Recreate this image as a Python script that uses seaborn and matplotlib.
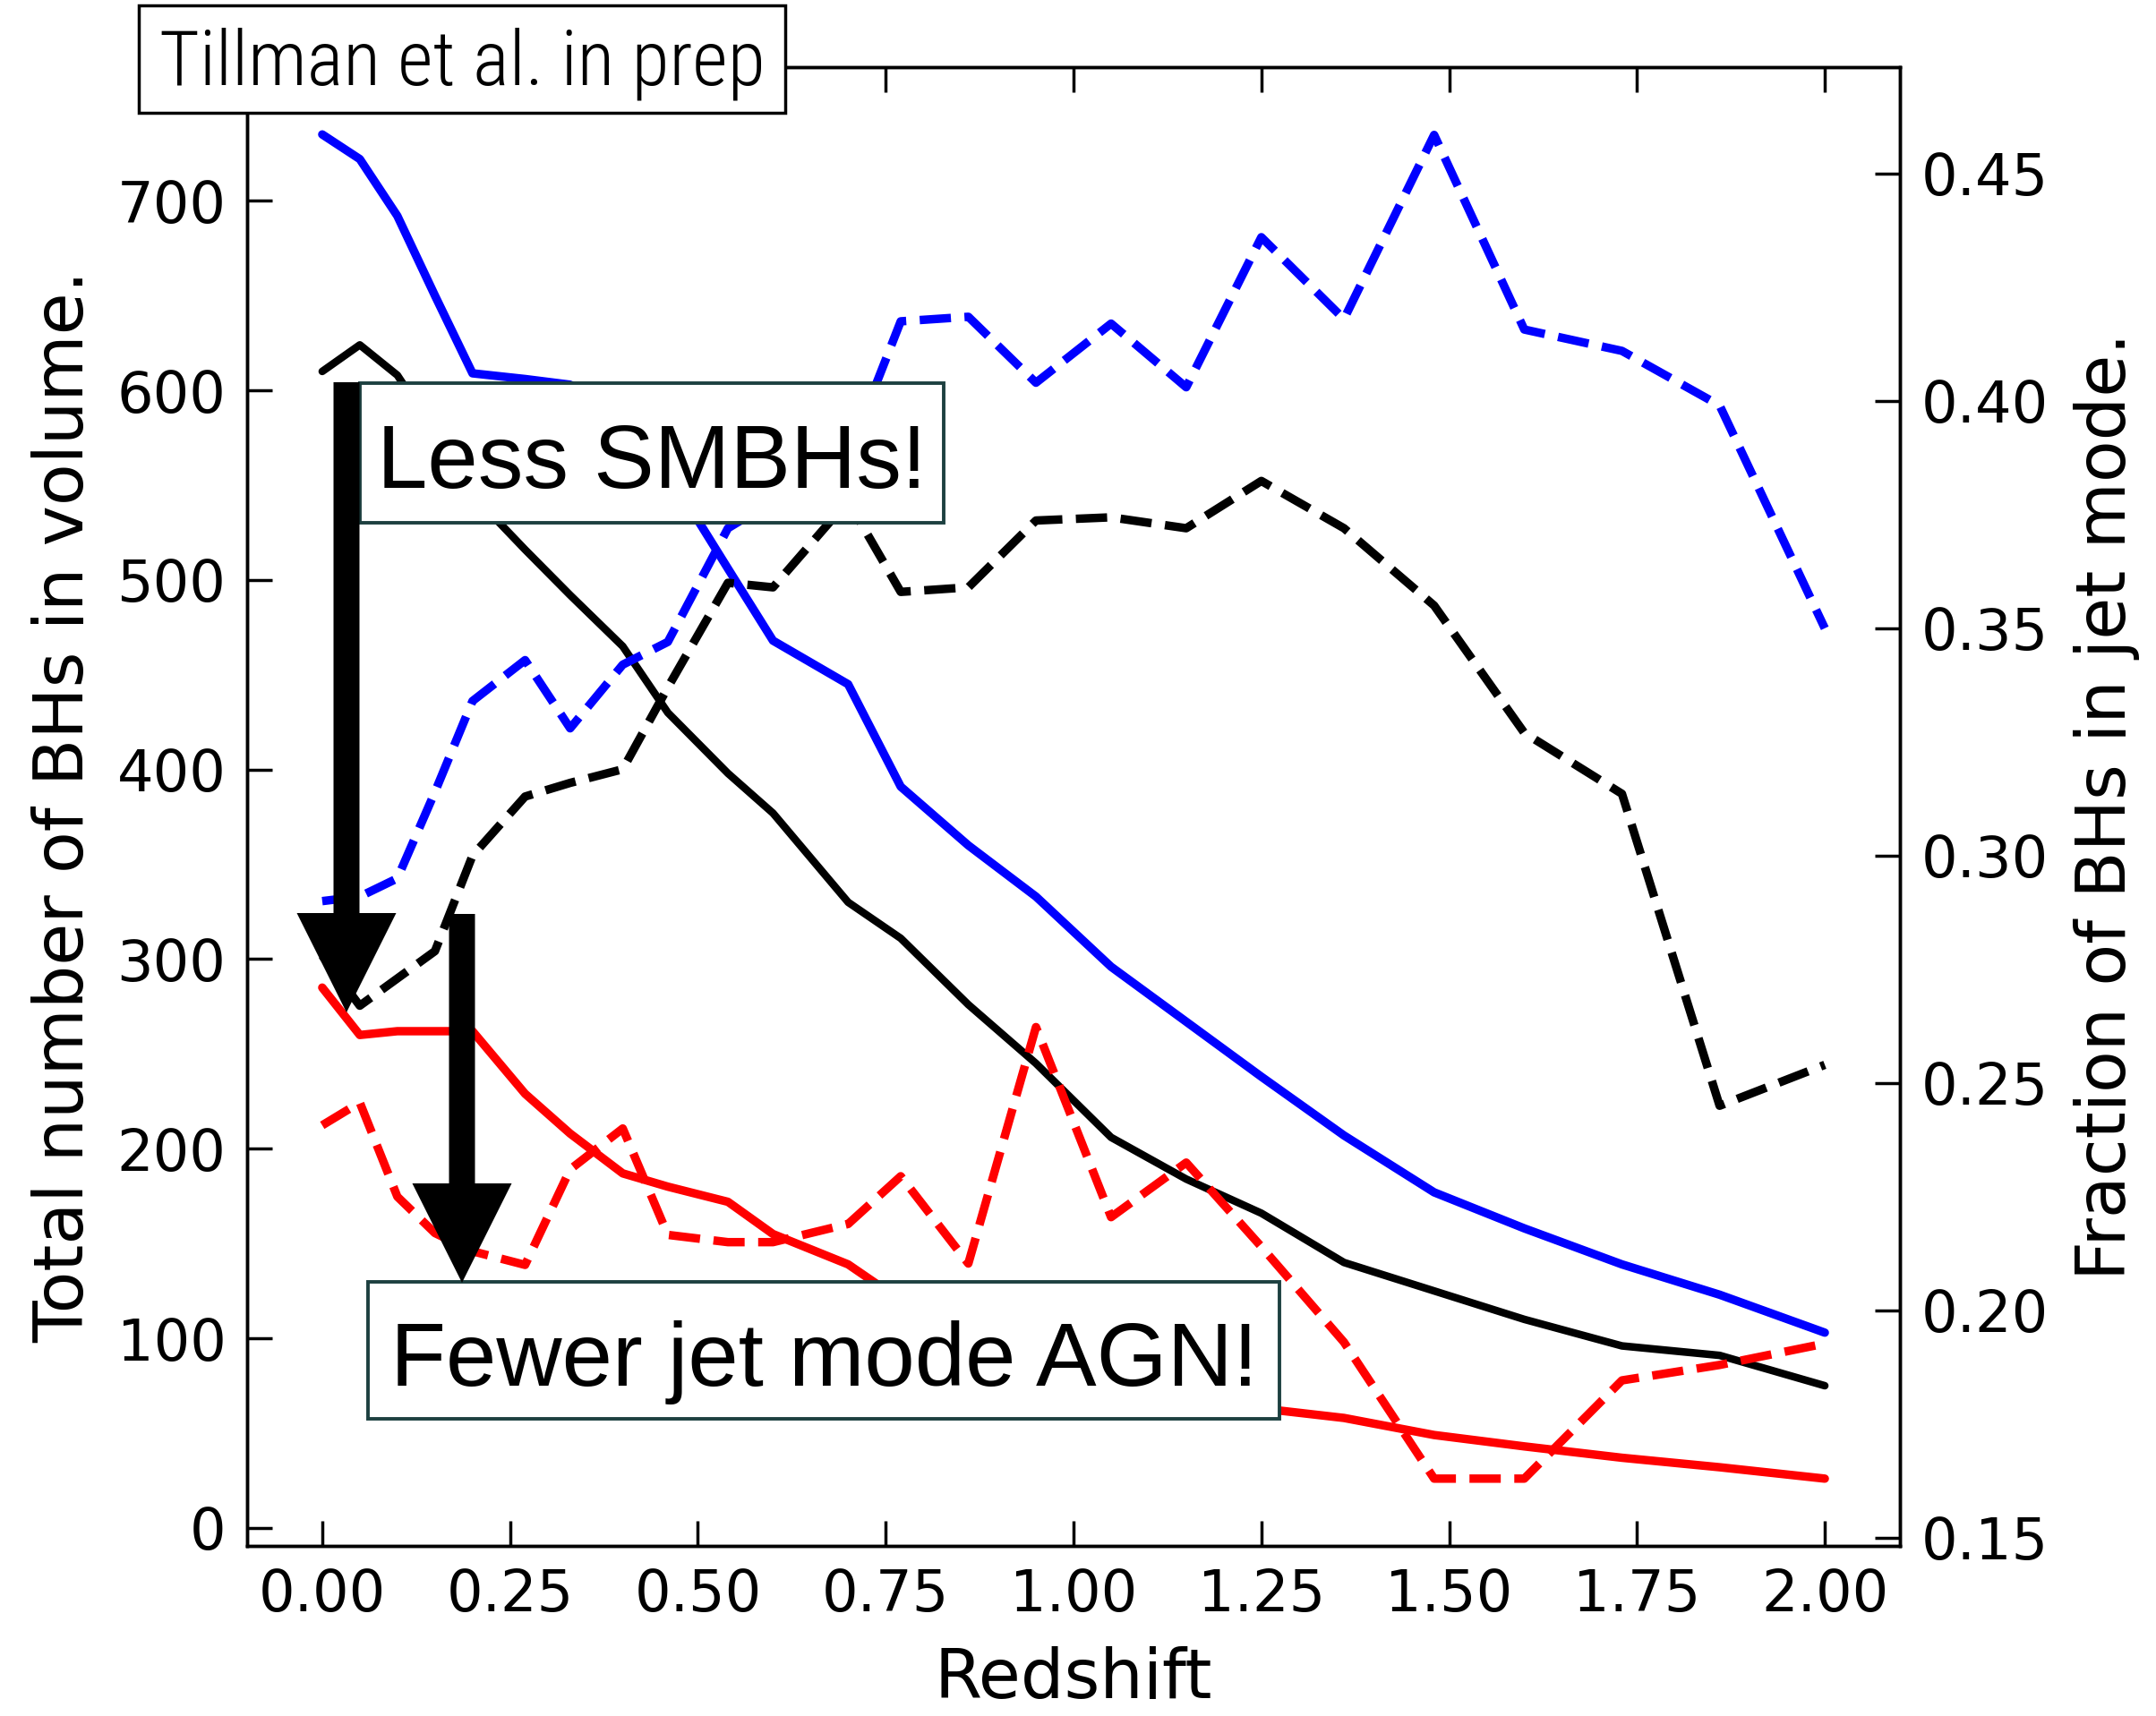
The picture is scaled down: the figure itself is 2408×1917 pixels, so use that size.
import numpy as np
import pandas as pd
import matplotlib
matplotlib.use("Agg")
import matplotlib.pyplot as plt
import seaborn as sns
from matplotlib.patches import Rectangle, FancyArrow

# ---------------- data ----------------
redshift = [0.00, 0.05, 0.10, 0.15, 0.20, 0.27, 0.33, 0.40, 0.46, 0.54, 0.60, 0.70,
            0.77, 0.86, 0.95, 1.05, 1.15, 1.25, 1.36, 1.48, 1.60, 1.73, 1.86, 2.00]

# total number of BHs in volume (left axis, solid)
n_blue = [735, 722, 692, 650, 609, 606, 603, 585, 557, 506, 468, 445,
          391, 360, 333, 296, 267, 238, 207, 177, 158, 139, 123, 103]
n_black = [610, 624, 608, 578, 545, 516, 492, 465, 430, 398, 377, 330,
           311, 276, 245, 206, 184, 166, 140, 125, 110, 96, 91, 75]
n_red = [285, 260, 262, 262, 262, 229, 208, 187, 180, 172, 155, 139,
         120, 105, 92, 80, 70, 63, 58, 49, 43, 37, 32, 26]

# fraction of BHs in jet mode (right axis, dashed)
f_blue = [0.290, 0.291, 0.295, 0.314, 0.334, 0.343, 0.328, 0.342, 0.347, 0.372, 0.378, 0.388,
          0.4175, 0.4185, 0.404, 0.417, 0.403, 0.436, 0.418, 0.4585, 0.4157, 0.411, 0.399, 0.350]
f_black = [0.278, 0.267, 0.273, 0.279, 0.300, 0.313, 0.316, 0.319, 0.337, 0.360, 0.359, 0.378,
           0.358, 0.359, 0.3737, 0.3744, 0.372, 0.3824, 0.372, 0.355, 0.327, 0.3136, 0.245, 0.254]
f_red = [0.2407, 0.2457, 0.225, 0.217, 0.213, 0.210, 0.231, 0.240, 0.2166, 0.215, 0.215, 0.219,
         0.2295, 0.2103, 0.2623, 0.2205, 0.2325, 0.214, 0.193, 0.163, 0.163, 0.1846, 0.188, 0.1927]

x_ticks = [0.00, 0.25, 0.50, 0.75, 1.00, 1.25, 1.50, 1.75, 2.00]
left_ticks = [0, 100, 200, 300, 400, 500, 600, 700]
right_ticks = [0.15, 0.20, 0.25, 0.30, 0.35, 0.40, 0.45]

# ---------------- style ----------------
sns.set_style("ticks")
plt.rcParams['font.family'] = ['DejaVu Sans']
plt.rcParams['axes.edgecolor'] = 'black'
plt.rcParams['axes.linewidth'] = 2.5
plt.rcParams['text.color'] = 'black'
plt.rcParams['axes.labelcolor'] = 'black'
plt.rcParams['xtick.color'] = 'black'
plt.rcParams['ytick.color'] = 'black'

W, H = 2408, 1917
fig = plt.figure(figsize=(W / 100, H / 100), dpi=100)
fig.patch.set_facecolor('white')
ax = fig.add_axes([276 / W, 1 - 1727 / H, (2122 - 276) / W, (1727 - 75) / H])
ax2 = ax.twinx()

LW = 6.8
BLUE, RED, BLACK = '#0000ff', '#ff0000', '#000000'

sns.lineplot(x=redshift, y=n_blue, ax=ax, color=BLUE, linewidth=LW)
sns.lineplot(x=redshift, y=n_black, ax=ax, color=BLACK, linewidth=LW * 0.9)
sns.lineplot(x=redshift, y=n_red, ax=ax, color=RED, linewidth=LW)

sns.lineplot(x=redshift, y=f_blue, ax=ax2, color=BLUE, linewidth=LW, linestyle='--')
sns.lineplot(x=redshift, y=f_black, ax=ax2, color=BLACK, linewidth=LW, linestyle='--')
sns.lineplot(x=redshift, y=f_red, ax=ax2, color=RED, linewidth=LW, linestyle='--')

ax.set_xlim(-0.1, 2.1)
ax.set_ylim(-9.5, 770.5)
ax2.set_ylim(0.1482, 0.4734)
ax.set_xticks(x_ticks)
ax.set_xticklabels([f"{v:.2f}" for v in x_ticks])
ax.set_yticks(left_ticks)
ax.set_yticklabels([str(v) for v in left_ticks])
ax2.set_yticks(right_ticks)
ax2.set_yticklabels([f"{v:.2f}" for v in right_ticks])

tick_kw = dict(direction='in', length=20, width=2.5, labelsize=46, pad=17, colors='black')
ax.tick_params(axis='x', bottom=True, top=True, **tick_kw)
ax.tick_params(axis='y', left=True, right=False, **tick_kw)
ax2.tick_params(axis='y', left=False, right=True, **tick_kw)

for a in (ax, ax2):
    for s in a.spines.values():
        s.set_linewidth(2.5)
        s.set_color('black')

ax.set_xlabel("Redshift", fontsize=55, labelpad=19)
ax.set_ylabel("Total number of BHs in volume.", fontsize=55, labelpad=15)
ax2.set_ylabel("Fraction of BHs in jet mode.", fontsize=55, labelpad=20)

# ---------------- annotations ----------------
def fx(px):
    return px / W

def fy(py):
    return 1 - py / H

# boxes
fig.add_artist(Rectangle((fx(155), fy(126)), fx(877) - fx(155), fy(6) - fy(126),
                         transform=fig.transFigure, facecolor='white', edgecolor='black',
                         lw=2.5, zorder=5))
fig.add_artist(Rectangle((fx(402), fy(584)), fx(1054) - fx(402), fy(428) - fy(584),
                         transform=fig.transFigure, facecolor='white', edgecolor='#1d4040',
                         lw=2.8, zorder=5))
fig.add_artist(Rectangle((fx(411), fy(1585)), fx(1429) - fx(411), fy(1432) - fy(1585),
                         transform=fig.transFigure, facecolor='white', edgecolor='#1d4040',
                         lw=2.8, zorder=5))

# arrows (in inches, figure dpi 100)
for x_px, y0_px, y1_px in [(387, 427, 1131), (516, 1021, 1433)]:
    fig.add_artist(FancyArrow(x_px / 100, (H - y0_px) / 100, 0, -(y1_px - y0_px) / 100,
                              width=0.29, head_width=1.11, head_length=1.11,
                              length_includes_head=True, transform=fig.dpi_scale_trans,
                              facecolor='black', edgecolor='none', zorder=6))

fig.text(fx(516), fy(95), "Tillman et al. in prep", ha='center', va='baseline',
         fontsize=62, family=['Roboto Condensed', 'Liberation Sans Narrow', 'Liberation Sans'],
         weight='light', color='black', zorder=7)
fig.text(fx(728), fy(545), "Less SMBHs!", ha='center', va='baseline',
         fontsize=73, family=['Liberation Sans', 'DejaVu Sans'], color='black', zorder=7)
fig.text(fx(920), fy(1548), "Fewer jet mode AGN!", ha='center', va='baseline',
         fontsize=73, family=['Liberation Sans', 'DejaVu Sans'], color='black', zorder=7)

fig.savefig("out.png", dpi=100, facecolor='white')
